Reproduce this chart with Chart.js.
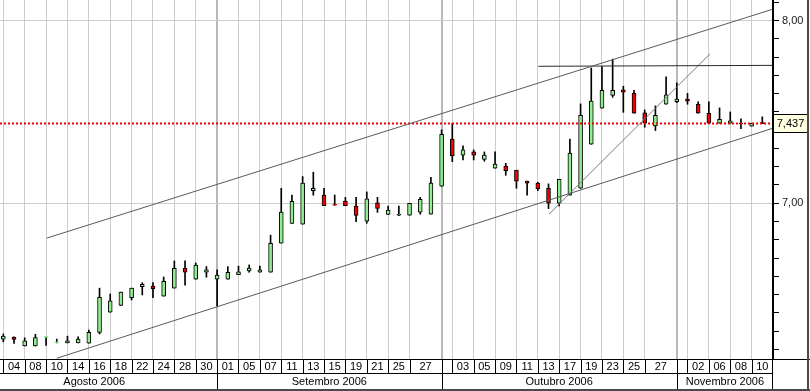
<!DOCTYPE html>
<html>
<head>
<meta charset="utf-8">
<script src="https://cdn.jsdelivr.net/npm/chart.js@4.4.1/dist/chart.umd.min.js"></script>
<style>
  html, body { margin: 0; padding: 0; background: #fff; }
  #wrap { width: 810px; height: 391px; }
</style>
</head>
<body>
<div id="wrap"><canvas id="priceChart" width="810" height="391"></canvas></div>
<script>
// Daily candles, 04/08/2006 - 13/11/2006
const tradeDates = [
  '04/08','07/08','08/08','09/08','10/08','11/08','14/08','15/08','16/08','17/08',
  '18/08','21/08','22/08','23/08','24/08','25/08','28/08','29/08','30/08','31/08',
  '01/09','04/09','05/09','06/09','07/09','08/09','11/09','12/09','13/09','14/09',
  '15/09','18/09','19/09','20/09','21/09','22/09','25/09','26/09','27/09','28/09','29/09',
  '02/10','03/10','04/10','05/10','06/10','09/10','10/10','11/10','12/10','13/10',
  '16/10','17/10','18/10','19/10','20/10','23/10','24/10','25/10','26/10','27/10','30/10','31/10',
  '01/11','02/11','03/11','06/11','07/11','08/11','09/11','10/11','13/11'
];

const opens = [
  6.256, 6.267, 6.218, 6.218, 6.265, 6.235, 6.235, 6.235, 6.234, 6.293,
  6.403, 6.441, 6.483, 6.543, 6.547, 6.491, 6.535, 6.644, 6.584, 6.622,
  6.584, 6.584, 6.609, 6.630, 6.622, 6.622, 6.781, 6.890, 6.885, 7.069,
  7.045, 6.990, 7.012, 6.984, 6.902, 7.002, 6.939, 6.934, 6.934, 6.951, 6.940,
  7.093, 7.352, 7.263, 7.281, 7.240, 7.192, 7.203, 7.181, 7.122, 7.111,
  7.082, 7.000, 7.044, 7.082, 7.323, 7.520, 7.591, 7.621, 7.602, 7.495, 7.423, 7.542,
  7.556, 7.571, 7.542, 7.493, 7.438, 7.438, 7.436, 7.422, 7.438
];
const highs = [
  6.284, 6.268, 6.263, 6.282, 6.266, 6.256, 6.272, 6.268, 6.305, 6.535,
  6.503, 6.513, 6.535, 6.565, 6.565, 6.596, 6.684, 6.684, 6.673, 6.653,
  6.635, 6.653, 6.656, 6.662, 6.656, 6.825, 7.082, 7.045, 7.146, 7.170,
  7.082, 7.045, 7.032, 7.032, 7.062, 7.032, 6.984, 6.984, 7.000, 7.032, 7.142,
  7.402, 7.438, 7.314, 7.292, 7.281, 7.281, 7.219, 7.181, 7.122, 7.115,
  7.106, 7.131, 7.352, 7.544, 7.741, 7.748, 7.789, 7.641, 7.619, 7.511, 7.533, 7.692,
  7.659, 7.602, 7.555, 7.555, 7.522, 7.500, 7.462, 7.438, 7.473
];
const lows = [
  6.241, 6.233, 6.218, 6.218, 6.222, 6.235, 6.235, 6.235, 6.234, 6.284,
  6.403, 6.441, 6.470, 6.498, 6.483, 6.491, 6.535, 6.552, 6.584, 6.595,
  6.438, 6.584, 6.609, 6.622, 6.622, 6.622, 6.781, 6.890, 6.885, 7.044,
  6.987, 6.988, 6.987, 6.899, 6.890, 6.950, 6.939, 6.932, 6.934, 6.940, 6.940,
  7.093, 7.228, 7.237, 7.237, 7.230, 7.192, 7.153, 7.082, 7.044, 7.069,
  6.971, 6.985, 7.044, 7.082, 7.323, 7.520, 7.580, 7.498, 7.493, 7.416, 7.398, 7.542,
  7.551, 7.542, 7.493, 7.438, 7.438, 7.438, 7.409, 7.422, 7.436
];
const closes = [
  6.273, 6.254, 6.246, 6.264, 6.2655, 6.2355, 6.247, 6.256, 6.293, 6.485,
  6.465, 6.513, 6.535, 6.556, 6.532, 6.573, 6.644, 6.622, 6.662, 6.636,
  6.607, 6.622, 6.624, 6.645, 6.635, 6.781, 6.951, 7.011, 7.110, 7.082,
  6.987, 6.989, 6.987, 6.933, 7.024, 6.971, 6.963, 6.936, 7.000, 7.022, 7.110,
  7.378, 7.261, 7.292, 7.263, 7.264, 7.215, 7.179, 7.121, 7.110, 7.080,
  7.000, 7.131, 7.274, 7.482, 7.559, 7.619, 7.619, 7.608, 7.493, 7.438, 7.482, 7.593,
  7.571, 7.559, 7.493, 7.438, 7.460, 7.451, 7.434, 7.438, 7.436
];

// bottom axis: day labels (index of the candle that opens each cell) and months
const dayTickLabels = ['04','08','10','14','16','18','22','24','28','30',
  '01','05','07','11','13','15','19','21','25','27',
  '03','05','09','11','13','17','19','23','25','27',
  '02','06','08','10'];
const dayTickIdx = [0,2,4,6,8,10,12,14,16,18,
  20,22,24,26,28,30,32,34,36,38,
  42,44,46,48,50,52,54,56,58,60,
  64,66,68,70];
const monthNames = ['Agosto 2006', 'Setembro 2006', 'Outubro 2006', 'Novembro 2006'];
const monthFirstIdx = [-3, 20, 41, 63];

// drawn studies: [candle index, price]
const upperChannel = [[4.06, 6.809], [71.94, 8.062]];
const lowerChannel = [[5.0, 6.151], [72.0, 7.411]];
const topLine = [[50.05, 7.750], [72.0, 7.755]];
const steepLine = [[51.05, 6.940], [66.1, 7.818]];
const lastPrice = 7.437;
const yLabelValues = [7, 8];

const X_MIN = -0.31, X_MAX = 72.0;
const UP = '#90ee90', DOWN = '#f00000';
const FONT = '"Liberation Sans", Arial, sans-serif';

const idx = tradeDates.map((d, i) => i);
const candleColors = idx.map(i => closes[i] >= opens[i] ? UP : DOWN);
// flat candles show as a coloured dash
const bodyBorders = idx.map(i => Math.abs(closes[i] - opens[i]) < 0.0015 ? candleColors[i] : '#000');

const cellEdges = Array.from(new Set(dayTickIdx.concat(monthFirstIdx.filter(i => i >= X_MIN))))
  .sort((a, b) => a - b);
const monthEdgeSet = new Set(monthFirstIdx);

function toPoints(arr) {
  return arr.map(p => ({ x: p[0], y: p[1] }));
}

function fmt(v, d) {
  return v.toFixed(d).replace('.', ',');
}

function isLabelValue(v) {
  return yLabelValues.some(t => Math.abs(t - v) < 1e-6);
}

function lineSet(label, pts, color, extra) {
  return Object.assign({
    type: 'line', label: label, data: toPoints(pts),
    borderColor: color, borderWidth: 1, pointRadius: 0, tension: 0, order: 0
  }, extra || {});
}

// date / month rows under the plot, price tag and frame
const bottomAxis = {
  id: 'bottomAxis',
  afterDraw(chart) {
    const ctx = chart.ctx;
    const xs = chart.scales.x;
    const area = chart.chartArea;
    const rowTop = area.bottom;
    const rowMid = rowTop + 14;
    const rowBot = rowMid + 16;
    const px = v => xs.getPixelForValue(v);
    const crisp = v => Math.round(v) + 0.5;

    ctx.save();
    ctx.strokeStyle = '#000';
    ctx.lineWidth = 1;
    ctx.beginPath();
    ctx.moveTo(0, crisp(rowTop)); ctx.lineTo(chart.width, crisp(rowTop));
    ctx.moveTo(0, crisp(rowMid)); ctx.lineTo(area.right, crisp(rowMid));
    ctx.moveTo(crisp(area.right - 1), 0); ctx.lineTo(crisp(area.right - 1), rowBot);
    cellEdges.forEach(i => {
      const x = crisp(px(i));
      ctx.moveTo(x, rowTop); ctx.lineTo(x, rowMid);
      if (monthEdgeSet.has(i)) { ctx.moveTo(x, rowMid); ctx.lineTo(x, rowBot); }
    });
    ctx.stroke();

    ctx.fillStyle = '#000';
    ctx.font = '11px ' + FONT;
    ctx.textAlign = 'center';
    ctx.textBaseline = 'middle';
    dayTickIdx.forEach((start, k) => {
      const next = cellEdges.find(e => e > start);
      const end = next === undefined ? X_MAX : next;
      ctx.fillText(dayTickLabels[k], (px(start) + px(end)) / 2, rowTop + 8);
    });
    monthNames.forEach((name, m) => {
      const start = monthFirstIdx[m];
      const end = m + 1 < monthFirstIdx.length ? monthFirstIdx[m + 1] : X_MAX;
      ctx.fillText(name, (px(start) + px(end)) / 2, rowMid + 9);
    });

    // last price tag
    const yp = Math.round(chart.scales.y.getPixelForValue(lastPrice));
    ctx.fillStyle = '#ffffe1';
    ctx.fillRect(area.right, yp - 9, 35, 18);
    ctx.strokeRect(area.right + 0.5, yp - 8.5, 34, 18);
    ctx.fillStyle = '#000';
    ctx.fillText(fmt(lastPrice, 3), area.right + 17.5, yp + 0.5);

    // window frame
    ctx.fillStyle = '#4a4a4a';
    ctx.fillRect(chart.width - 3, 0, 2, chart.height);
    ctx.fillRect(0, chart.height - 2, chart.width, 2);
    ctx.restore();
  }
};

new Chart(document.getElementById('priceChart'), {
  type: 'bar',
  data: {
    datasets: [
      lineSet('Canal superior', upperChannel, '#5a5a5a'),
      lineSet('Canal inferior', lowerChannel, '#5a5a5a'),
      lineSet('Resistência', topLine, '#2a2a2a'),
      lineSet('Suporte', steepLine, '#7a7a7a'),
      lineSet('Último', [[X_MIN, lastPrice], [X_MAX, lastPrice]], '#f00000',
        { borderWidth: 2, borderDash: [2, 2] }),
      {
        type: 'bar', label: 'Corpo',
        data: idx.map(i => ({ x: i, y: [opens[i], closes[i]] })),
        backgroundColor: candleColors, borderColor: bodyBorders,
        borderWidth: 1, borderSkipped: false, barThickness: 4,
        minBarLength: 1, grouped: false, order: 1
      },
      {
        type: 'bar', label: 'Pavio',
        data: idx.map(i => ({ x: i, y: [lows[i], highs[i]] })),
        backgroundColor: '#000', barThickness: 1, grouped: false, order: 2
      }
    ]
  },
  options: {
    responsive: false,
    animation: false,
    devicePixelRatio: 1,
    layout: { padding: { left: 0, right: 0, top: 0, bottom: 32 } },
    plugins: { legend: { display: false }, tooltip: { enabled: false } },
    scales: {
      x: {
        type: 'linear', min: X_MIN, max: X_MAX, offset: false,
        afterBuildTicks: axis => { axis.ticks = cellEdges.map(v => ({ value: v })); },
        border: { display: false },
        grid: {
          offset: false, drawTicks: false,
          color: c => monthEdgeSet.has(c.tick && c.tick.value) ? '#b8b8b8' : '#cdcdcd',
          lineWidth: c => monthEdgeSet.has(c.tick && c.tick.value) ? 2 : 1
        },
        ticks: { display: false }
      },
      y: {
        type: 'linear', position: 'right', min: 6.147, max: 8.113,
        afterFit: scale => { scale.width = 37; scale.paddingTop = 0; scale.paddingBottom = 0; },
        border: { display: true, color: '#000', width: 1 },
        grid: {
          color: c => (c.tick && isLabelValue(c.tick.value)) ? '#cdcdcd' : 'rgba(0,0,0,0)',
          tickColor: '#000', tickLength: 6, drawTicks: true
        },
        ticks: {
          stepSize: 0.1, includeBounds: false, autoSkip: false, padding: 3,
          color: '#1a1a1a', font: { family: FONT, size: 11 },
          callback: v => isLabelValue(v) ? fmt(v, 2) : ''
        }
      }
    }
  },
  plugins: [bottomAxis]
});
</script>
</body>
</html>
